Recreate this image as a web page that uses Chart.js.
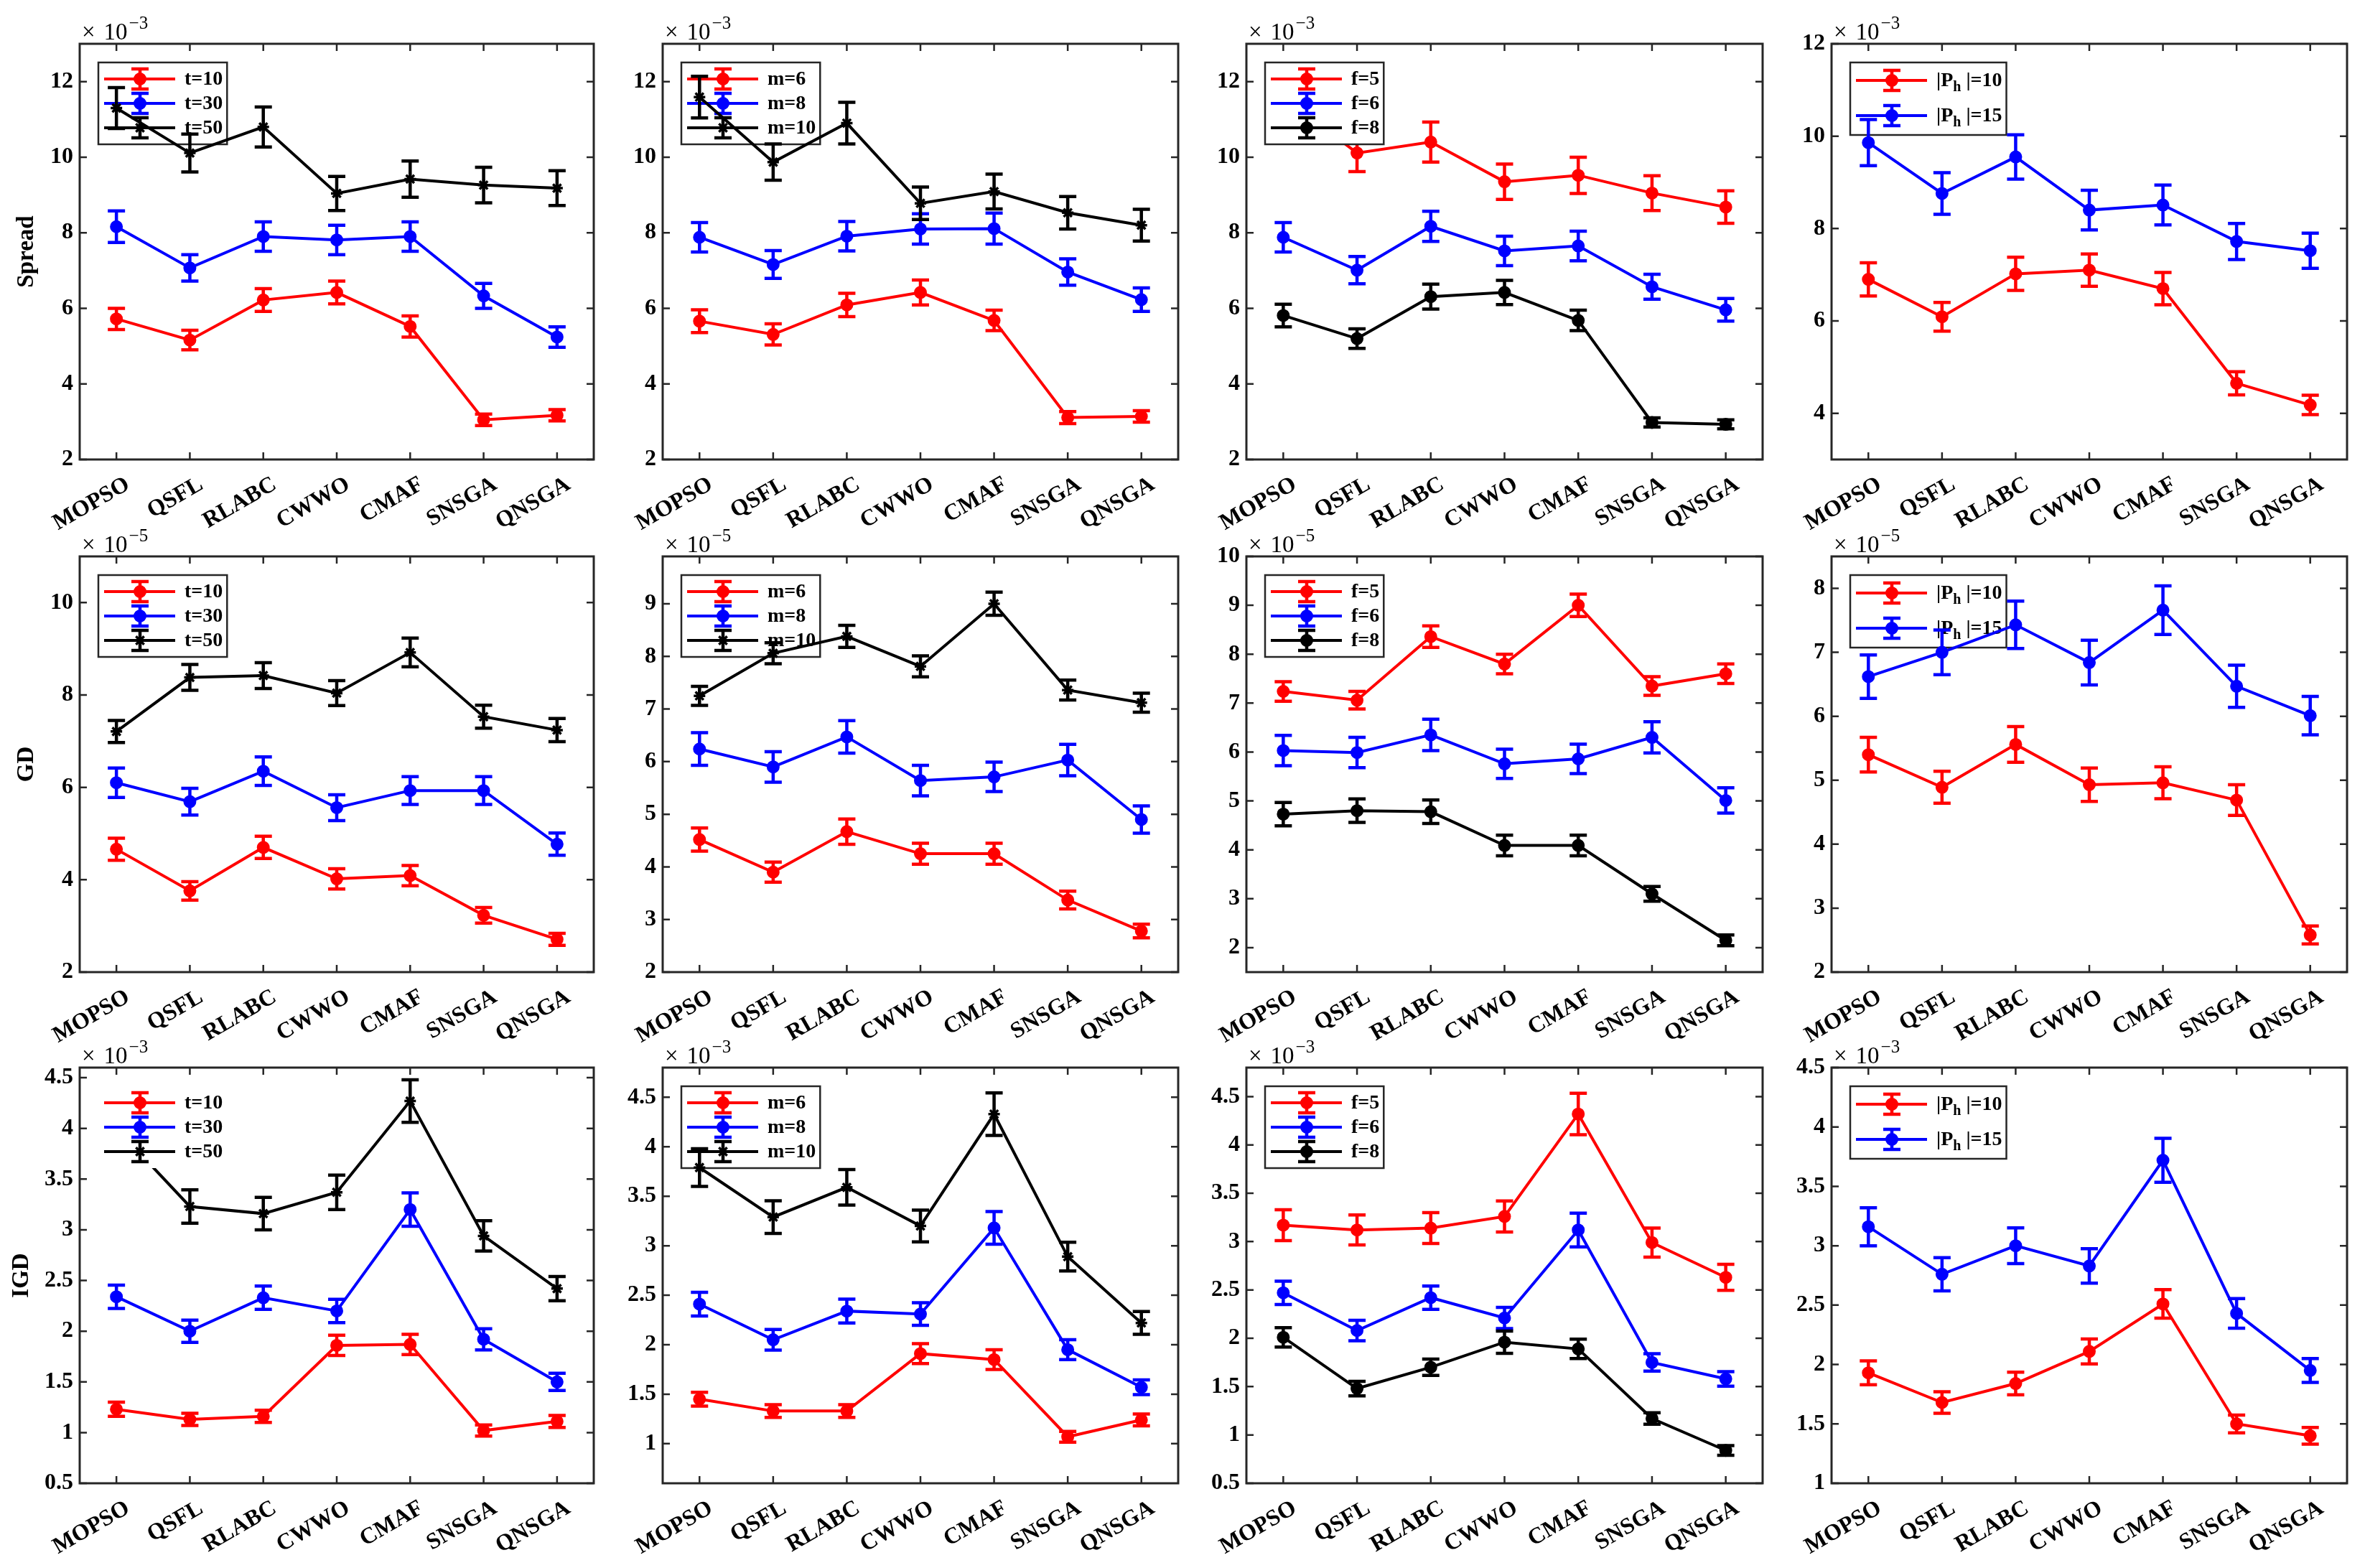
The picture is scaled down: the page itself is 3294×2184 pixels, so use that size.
<!DOCTYPE html>
<html>
<head>
<meta charset="utf-8">
<script src="https://cdn.jsdelivr.net/npm/chart.js@4.4.1/dist/chart.umd.min.js"></script>
<style>
  html, body { margin: 0; padding: 0; background: #fff; }
  body { width: 3294px; height: 2184px; position: relative; overflow: hidden; }
  canvas { position: absolute; }
</style>
</head>
<body>
<script>
// categories
var methods = ['MOPSO', 'QSFL', 'RLABC', 'CWWO', 'CMAF', 'SNSGA', 'QNSGA'];

// legend names
var namesT = ['t=10', 't=30', 't=50'];
var namesM = ['m=6', 'm=8', 'm=10'];
var namesF = ['f=5', 'f=6', 'f=8'];
var namesP = ['|P_h |=10', '|P_h |=15'];

// Spread (x 10^-3)
var spread_t_mean = [[5.72, 5.16, 6.22, 6.42, 5.52, 3.05, 3.17], [8.16, 7.07, 7.9, 7.81, 7.9, 6.33, 5.24], [11.3, 10.11, 10.8, 9.04, 9.42, 9.26, 9.18]];
var spread_t_err  = [[0.28, 0.26, 0.3, 0.3, 0.28, 0.15, 0.15], [0.42, 0.35, 0.39, 0.39, 0.39, 0.33, 0.27], [0.54, 0.5, 0.53, 0.45, 0.48, 0.47, 0.46]];
var spread_m_mean = [[5.66, 5.31, 6.09, 6.42, 5.68, 3.11, 3.14], [7.88, 7.16, 7.91, 8.1, 8.11, 6.96, 6.23], [11.59, 9.87, 10.9, 8.78, 9.09, 8.53, 8.2]];
var spread_m_err  = [[0.3, 0.28, 0.31, 0.33, 0.27, 0.16, 0.15], [0.39, 0.37, 0.39, 0.4, 0.41, 0.35, 0.31], [0.55, 0.48, 0.55, 0.43, 0.46, 0.43, 0.42]];
var spread_f_mean = [[11.6, 10.11, 10.4, 9.35, 9.52, 9.05, 8.68], [7.88, 7.01, 8.17, 7.52, 7.65, 6.57, 5.96], [5.81, 5.2, 6.31, 6.42, 5.68, 2.98, 2.93]];
var spread_f_err  = [[0.5, 0.49, 0.53, 0.47, 0.48, 0.46, 0.43], [0.39, 0.36, 0.4, 0.39, 0.39, 0.33, 0.3], [0.3, 0.26, 0.33, 0.32, 0.27, 0.12, 0.12]];
var spread_p_mean = [[6.9, 6.09, 7.02, 7.1, 6.7, 4.65, 4.18], [9.86, 8.76, 9.55, 8.4, 8.51, 7.72, 7.52]];
var spread_p_err  = [[0.36, 0.31, 0.36, 0.35, 0.35, 0.25, 0.21], [0.5, 0.45, 0.48, 0.43, 0.43, 0.39, 0.38]];

// GD (x 10^-5)
var gd_t_mean = [[4.66, 3.76, 4.7, 4.02, 4.09, 3.23, 2.71], [6.1, 5.69, 6.35, 5.56, 5.93, 5.93, 4.77], [7.21, 8.38, 8.42, 8.04, 8.92, 7.53, 7.24]];
var gd_t_err  = [[0.24, 0.2, 0.24, 0.22, 0.22, 0.17, 0.13], [0.32, 0.29, 0.31, 0.28, 0.3, 0.3, 0.24], [0.24, 0.28, 0.28, 0.27, 0.31, 0.25, 0.25]];
var gd_m_mean = [[4.52, 3.9, 4.67, 4.25, 4.25, 3.37, 2.78], [6.24, 5.9, 6.47, 5.64, 5.71, 6.03, 4.9], [7.25, 8.06, 8.38, 7.81, 9.0, 7.36, 7.12]];
var gd_m_err  = [[0.22, 0.19, 0.24, 0.2, 0.2, 0.17, 0.13], [0.31, 0.29, 0.31, 0.29, 0.28, 0.3, 0.26], [0.18, 0.2, 0.21, 0.2, 0.22, 0.19, 0.18]];
var gd_f_mean = [[7.24, 7.06, 8.36, 7.8, 9.0, 7.35, 7.6], [6.03, 5.99, 6.35, 5.76, 5.86, 6.3, 5.01], [4.73, 4.8, 4.78, 4.09, 4.09, 3.1, 2.15]];
var gd_f_err  = [[0.2, 0.18, 0.22, 0.2, 0.23, 0.19, 0.2], [0.31, 0.31, 0.32, 0.3, 0.3, 0.32, 0.26], [0.24, 0.24, 0.24, 0.21, 0.21, 0.15, 0.11]];
var gd_p_mean = [[5.4, 4.89, 5.56, 4.93, 4.96, 4.69, 2.58], [6.62, 7.0, 7.43, 6.84, 7.66, 6.47, 6.01]];
var gd_p_err  = [[0.27, 0.25, 0.28, 0.26, 0.25, 0.24, 0.14], [0.34, 0.35, 0.37, 0.35, 0.38, 0.33, 0.3]];

// IGD (x 10^-3)
var igd_t_mean = [[1.23, 1.13, 1.16, 1.86, 1.87, 1.02, 1.11], [2.34, 2.0, 2.33, 2.2, 3.2, 1.92, 1.5], [4.0, 3.23, 3.16, 3.37, 4.27, 2.94, 2.42]];
var igd_t_err  = [[0.07, 0.06, 0.06, 0.1, 0.1, 0.055, 0.06], [0.115, 0.11, 0.115, 0.115, 0.165, 0.105, 0.085], [0.17, 0.165, 0.16, 0.17, 0.21, 0.15, 0.12]];
var igd_m_mean = [[1.45, 1.33, 1.33, 1.91, 1.85, 1.07, 1.24], [2.41, 2.05, 2.34, 2.31, 3.18, 1.95, 1.57], [3.79, 3.29, 3.59, 3.2, 4.33, 2.89, 2.22]];
var igd_m_err  = [[0.07, 0.065, 0.065, 0.1, 0.1, 0.055, 0.06], [0.12, 0.105, 0.12, 0.115, 0.165, 0.1, 0.075], [0.19, 0.165, 0.18, 0.16, 0.215, 0.145, 0.115]];
var igd_f_mean = [[3.17, 3.12, 3.14, 3.26, 4.32, 2.99, 2.63], [2.47, 2.08, 2.42, 2.21, 3.12, 1.75, 1.58], [2.01, 1.48, 1.7, 1.96, 1.89, 1.17, 0.84]];
var igd_f_err  = [[0.16, 0.155, 0.16, 0.16, 0.215, 0.15, 0.135], [0.12, 0.105, 0.12, 0.11, 0.175, 0.09, 0.075], [0.1, 0.075, 0.085, 0.115, 0.1, 0.06, 0.05]];
var igd_p_mean = [[1.93, 1.68, 1.84, 2.11, 2.51, 1.5, 1.4], [3.16, 2.76, 3.0, 2.83, 3.72, 2.43, 1.95]];
var igd_p_err  = [[0.1, 0.09, 0.095, 0.105, 0.12, 0.075, 0.07], [0.16, 0.14, 0.15, 0.145, 0.185, 0.125, 0.1]];

// y axis ranges and tick labels
var spreadRange = [2, 13], spreadTicks = [2, 4, 6, 8, 10, 12];
var spreadPRange = [3, 12], spreadPTicks = [4, 6, 8, 10, 12];
var gdTRange = [2, 11], gdTTicks = [2, 4, 6, 8, 10];
var gdMRange = [2, 9.9], gdMTicks = [2, 3, 4, 5, 6, 7, 8, 9];
var gdFRange = [1.5, 10], gdFTicks = [2, 3, 4, 5, 6, 7, 8, 9, 10];
var gdPRange = [2, 8.5], gdPTicks = [2, 3, 4, 5, 6, 7, 8];
var igdTRange = [0.5, 4.6], igdTTicks = [0.5, 1, 1.5, 2, 2.5, 3, 3.5, 4, 4.5];
var igdMRange = [0.6, 4.8], igdMTicks = [1, 1.5, 2, 2.5, 3, 3.5, 4, 4.5];
var igdFRange = [0.5, 4.8], igdFTicks = [0.5, 1, 1.5, 2, 2.5, 3, 3.5, 4, 4.5];
var igdPRange = [1, 4.5], igdPTicks = [1, 1.5, 2, 2.5, 3, 3.5, 4, 4.5];

// layout of the plot boxes
var colLeft = [111, 923, 1736, 2551];
var colRight = [827, 1641, 2455, 3269];
var rowTop = [61, 775, 1487];
var rowBottom = [640, 1354, 2066];

var RED = '#ff0000', BLUE = '#0000ff', BLACK = '#000000';
var FONT = '"Liberation Serif", "Times New Roman", serif';
var AXIS = '#262626';

var panels = [
  {row: 0, col: 0, mean: spread_t_mean, err: spread_t_err, names: namesT, range: spreadRange, ticks: spreadTicks, exp: '\u22123', title: 'Spread', star: true},
  {row: 0, col: 1, mean: spread_m_mean, err: spread_m_err, names: namesM, range: spreadRange, ticks: spreadTicks, exp: '\u22123', star: true},
  {row: 0, col: 2, mean: spread_f_mean, err: spread_f_err, names: namesF, range: spreadRange, ticks: spreadTicks, exp: '\u22123', legendAbove: true},
  {row: 0, col: 3, mean: spread_p_mean, err: spread_p_err, names: namesP, range: spreadPRange, ticks: spreadPTicks, exp: '\u22123'},
  {row: 1, col: 0, mean: gd_t_mean, err: gd_t_err, names: namesT, range: gdTRange, ticks: gdTTicks, exp: '\u22125', title: 'GD', star: true},
  {row: 1, col: 1, mean: gd_m_mean, err: gd_m_err, names: namesM, range: gdMRange, ticks: gdMTicks, exp: '\u22125', star: true},
  {row: 1, col: 2, mean: gd_f_mean, err: gd_f_err, names: namesF, range: gdFRange, ticks: gdFTicks, exp: '\u22125'},
  {row: 1, col: 3, mean: gd_p_mean, err: gd_p_err, names: namesP, range: gdPRange, ticks: gdPTicks, exp: '\u22125'},
  {row: 2, col: 0, mean: igd_t_mean, err: igd_t_err, names: namesT, range: igdTRange, ticks: igdTTicks, exp: '\u22123', title: 'IGD', star: true, legendAbove: true, noBorder: true},
  {row: 2, col: 1, mean: igd_m_mean, err: igd_m_err, names: namesM, range: igdMRange, ticks: igdMTicks, exp: '\u22123', star: true},
  {row: 2, col: 2, mean: igd_f_mean, err: igd_f_err, names: namesF, range: igdFRange, ticks: igdFTicks, exp: '\u22123'},
  {row: 2, col: 3, mean: igd_p_mean, err: igd_p_err, names: namesP, range: igdPRange, ticks: igdPTicks, exp: '\u22123'}
];

var colors = [RED, BLUE, BLACK];
var PAD_TOP = 60, PAD_RIGHT = 14, X_H = 100;

// text with a one-letter subscript written as "_h"
function richWidth(ctx, text, size) {
  var i = text.indexOf('_');
  ctx.font = 'bold ' + size + 'px ' + FONT;
  if (i < 0) return ctx.measureText(text).width;
  var a = text.slice(0, i), s = text.charAt(i + 1), b = text.slice(i + 2);
  var w = ctx.measureText(a).width + ctx.measureText(b).width;
  ctx.font = 'bold ' + Math.round(size * 0.72) + 'px ' + FONT;
  return w + ctx.measureText(s).width;
}
function drawRich(ctx, text, x, y, size) {
  var i = text.indexOf('_');
  ctx.font = 'bold ' + size + 'px ' + FONT;
  if (i < 0) { ctx.fillText(text, x, y); return; }
  var a = text.slice(0, i), s = text.charAt(i + 1), b = text.slice(i + 2);
  ctx.fillText(a, x, y);
  x += ctx.measureText(a).width;
  ctx.font = 'bold ' + Math.round(size * 0.72) + 'px ' + FONT;
  ctx.fillText(s, x, y + size * 0.3);
  x += ctx.measureText(s).width;
  ctx.font = 'bold ' + size + 'px ' + FONT;
  ctx.fillText(b, x, y);
}

function drawErrorBars(chart) {
  var ctx = chart.ctx, ys = chart.scales.y;
  chart.data.datasets.forEach(function (ds, di) {
    var meta = chart.getDatasetMeta(di);
    ctx.save();
    ctx.strokeStyle = ds.borderColor;
    ctx.lineWidth = 4.5;
    meta.data.forEach(function (pt, i) {
      var v = ds.data[i], e = ds.errors[i];
      var y1 = ys.getPixelForValue(v - e), y2 = ys.getPixelForValue(v + e);
      ctx.beginPath();
      ctx.moveTo(pt.x, y1); ctx.lineTo(pt.x, y2);
      ctx.moveTo(pt.x - 12, y1); ctx.lineTo(pt.x + 12, y1);
      ctx.moveTo(pt.x - 12, y2); ctx.lineTo(pt.x + 12, y2);
      ctx.stroke();
    });
    ctx.restore();
  });
}

function drawLegend(chart, p) {
  var ctx = chart.ctx, ca = chart.chartArea;
  var n = p.names.length, size = 28;
  var x0 = ca.left + 26, y0 = ca.top + 26;
  var tw = 0;
  p.names.forEach(function (nm) { tw = Math.max(tw, richWidth(ctx, nm, size)); });
  var w = 120 + tw + 6, h = n === 3 ? 114 : 101;
  var first = n === 3 ? 23 : 25, step = n === 3 ? 34 : 49;
  ctx.save();
  ctx.fillStyle = '#fff';
  ctx.fillRect(x0, y0, w, h);
  if (!p.noBorder) {
    ctx.strokeStyle = AXIS; ctx.lineWidth = 2.5;
    ctx.strokeRect(x0, y0, w, h);
  }
  chart.data.datasets.forEach(function (ds, i) {
    var y = y0 + first + i * step, xm = x0 + 58;
    ctx.strokeStyle = ds.borderColor; ctx.fillStyle = ds.borderColor;
    ctx.lineWidth = 4;
    ctx.beginPath(); ctx.moveTo(x0 + 8, y); ctx.lineTo(x0 + 107, y); ctx.stroke();
    ctx.lineWidth = 4.5;
    ctx.beginPath();
    ctx.moveTo(xm, y - 14); ctx.lineTo(xm, y + 14);
    ctx.moveTo(xm - 12, y - 14); ctx.lineTo(xm + 12, y - 14);
    ctx.moveTo(xm - 12, y + 14); ctx.lineTo(xm + 12, y + 14);
    ctx.stroke();
    ctx.lineWidth = ds.pointBorderWidth;
    Chart.helpers.drawPoint(ctx, {pointStyle: ds.pointStyle, radius: ds.pointRadius, borderWidth: ds.pointBorderWidth, rotation: 0}, xm, y);
    ctx.fillStyle = '#000';
    ctx.textBaseline = 'middle'; ctx.textAlign = 'left';
    drawRich(ctx, p.names[i], x0 + 120, y + 1, size);
  });
  ctx.restore();
}

function drawFrame(chart, p) {
  var ctx = chart.ctx, ca = chart.chartArea, xs = chart.scales.x, ys = chart.scales.y;
  var tl = 10;
  ctx.save();
  ctx.strokeStyle = AXIS; ctx.lineWidth = 3;
  ctx.strokeRect(ca.left, ca.top, ca.right - ca.left, ca.bottom - ca.top);
  ctx.lineWidth = 2.5;
  ctx.beginPath();
  xs.ticks.forEach(function (t, i) {
    var x = xs.getPixelForTick(i);
    ctx.moveTo(x, ca.bottom); ctx.lineTo(x, ca.bottom - tl);
    ctx.moveTo(x, ca.top); ctx.lineTo(x, ca.top + tl);
  });
  ys.ticks.forEach(function (t) {
    var y = ys.getPixelForValue(t.value);
    ctx.moveTo(ca.left, y); ctx.lineTo(ca.left + tl, y);
    ctx.moveTo(ca.right, y); ctx.lineTo(ca.right - tl, y);
  });
  ctx.stroke();

  // exponent label
  ctx.fillStyle = '#000';
  ctx.textAlign = 'left'; ctx.textBaseline = 'alphabetic';
  ctx.font = '33px ' + FONT;
  ctx.fillText('\u00d7', ca.left + 3, ca.top - 6);
  var xw = ctx.measureText('\u00d7').width;
  ctx.fillText('10', ca.left + 3 + xw + 12, ca.top - 6);
  var bw = xw + 12 + ctx.measureText('10').width;
  ctx.font = '25px ' + FONT;
  ctx.fillText(p.exp, ca.left + 5 + bw, ca.top - 21);

  // y title
  if (p.title) {
    ctx.save();
    ctx.translate(p.title === 'IGD' ? 30 : 37, (ca.top + ca.bottom) / 2);
    ctx.rotate(-Math.PI / 2);
    ctx.textAlign = 'center'; ctx.textBaseline = 'middle';
    ctx.font = 'bold 33px ' + FONT;
    ctx.fillText(p.title, 0, 0);
    ctx.restore();
  }
  ctx.restore();
}

panels.forEach(function (p) {
  var yw = p.col === 0 ? colLeft[0] : 100;
  var plotW = colRight[p.col] - colLeft[p.col];
  var plotH = rowBottom[p.row] - rowTop[p.row];
  var cv = document.createElement('canvas');
  cv.width = yw + plotW + PAD_RIGHT;
  cv.height = PAD_TOP + plotH + X_H;
  cv.style.left = (colLeft[p.col] - yw) + 'px';
  cv.style.top = (rowTop[p.row] - PAD_TOP) + 'px';
  cv.style.width = cv.width + 'px';
  cv.style.height = cv.height + 'px';
  document.body.appendChild(cv);

  var datasets = p.mean.map(function (m, i) {
    var isStar = p.star && i === 2;
    return {
      label: p.names[i],
      data: m,
      errors: p.err[i],
      borderColor: colors[i],
      backgroundColor: colors[i],
      borderWidth: 4,
      pointStyle: isStar ? 'star' : 'circle',
      pointRadius: 8,
      pointBorderWidth: isStar ? 3.5 : 2,
      pointBackgroundColor: colors[i],
      pointBorderColor: colors[i],
      tension: 0,
      fill: false
    };
  });

  var tickFont = {family: FONT, weight: 'bold', size: 32};

  new Chart(cv, {
    type: 'line',
    data: {labels: methods, datasets: datasets},
    options: {
      responsive: false,
      animation: false,
      devicePixelRatio: 1,
      layout: {padding: {top: PAD_TOP, right: PAD_RIGHT, left: 0, bottom: 0}},
      plugins: {legend: {display: false}, tooltip: {enabled: false}},
      scales: {
        x: {
          type: 'category',
          offset: true,
          grid: {display: false, drawTicks: false},
          border: {display: false},
          ticks: {autoSkip: false, minRotation: 30, maxRotation: 30, padding: 16, labelOffset: 16, color: '#000', font: tickFont},
          afterFit: function (s) { s.height = X_H; }
        },
        y: {
          min: p.range[0],
          max: p.range[1],
          grid: {display: false, drawTicks: false},
          border: {display: false},
          ticks: {padding: 9, color: '#000', font: tickFont, callback: function (v) { return String(v); }},
          afterBuildTicks: function (s) { s.ticks = p.ticks.map(function (v) { return {value: v}; }); },
          afterFit: function (s) { s.width = yw; }
        }
      }
    },
    plugins: [{
      id: 'errbarFrame',
      beforeDatasetsDraw: function (chart) { if (!p.legendAbove) drawLegend(chart, p); },
      afterDatasetsDraw: function (chart) { drawErrorBars(chart); },
      afterDraw: function (chart) { if (p.legendAbove) drawLegend(chart, p); drawFrame(chart, p); }
    }]
  });
});
</script>
</body>
</html>
